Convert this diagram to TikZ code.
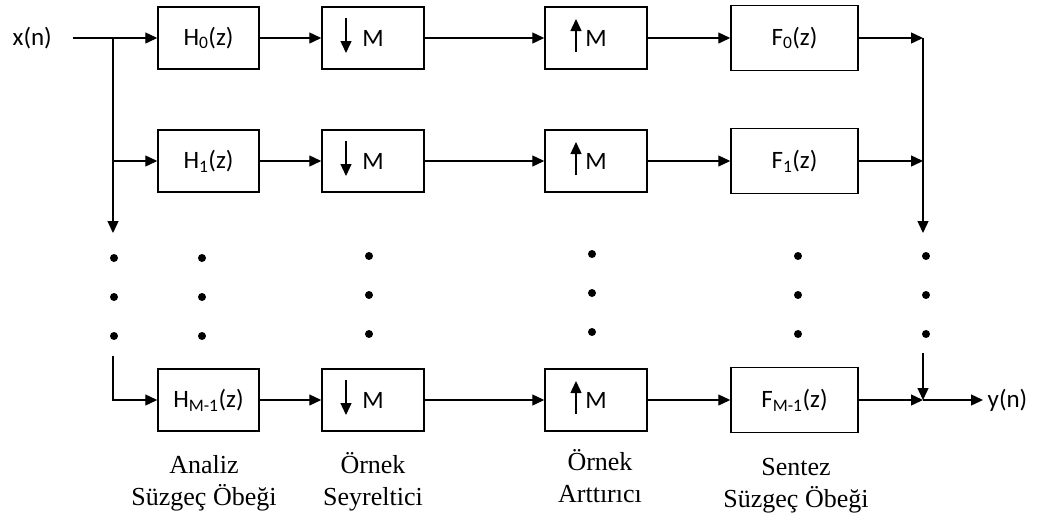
\documentclass[tikz,border=0pt]{standalone}
\usepackage{fontspec}
\setmainfont{Liberation Serif}
\newfontfamily\calfont{Carlito}
\usepackage{tikz}
\usetikzlibrary{arrows.meta}

\begin{document}
\begin{tikzpicture}[x=1pt, y=-1pt, >={Triangle[length=12pt, width=11pt]}, line width=1.4pt,
    blk/.style={draw, line width=1.5pt, minimum height=62pt, inner sep=0pt,
                font=\calfont\fontsize{25}{28}\selectfont},
    sig/.style={font=\calfont\fontsize{25}{28}\selectfont},
    dotc/.style={circle, fill, inner sep=0pt, minimum size=8pt},
    caption/.style={align=center, inner sep=0pt, anchor=base,
                font=\fontsize{26}{32}\selectfont}]

\useasboundingbox (0,0) rectangle (1053,520);

% kollar: analiz, seyreltme, arttirma, sentez
\foreach \r/\y/\s in {0/38/0, 1/161/1, 2/400/{M-1}} {
    \node[blk, minimum width=101pt] (h\r) at (208.5,\y) {H\textsubscript{\s}(z)};
    \node[blk, minimum width=102pt] (dn\r) at (373,\y) {M};
    \node[blk, minimum width=102pt] (up\r) at (596,\y) {M};
    \node[blk, minimum width=127pt, minimum height=65pt] (f\r) at (794.5,\y) {F\textsubscript{\s}(z)};
    % kutu ici oklar
    \draw[->] ([xshift=-27pt, yshift=20pt]dn\r.center) -- ([xshift=-27pt, yshift=-15pt]dn\r.center);
    \draw[->] ([xshift=-20pt, yshift=-14pt]up\r.center) -- ([xshift=-20pt, yshift=19pt]up\r.center);
    % baglantilar
    \draw[->] (h\r) -- (dn\r);
    \draw[->] (dn\r) -- (up\r);
    \draw[->] (up\r) -- (f\r);
}

% giris
\node[sig, anchor=west, inner sep=3pt] (xin) at (9,38) {x(n)};
\coordinate (xs) at (73,38);
\coordinate (jl) at (113,38);
\coordinate (la) at (113,233);
\coordinate (lb) at (113,356);
\draw[->] (xs) -- (h0);
\draw[->] (jl) -- (la);
\draw[->] (jl |- h1) -- (h1);
\draw[->] (lb) |- (h2);

% cikis
\coordinate (jr) at (923,38);
\coordinate (ra) at (923,233);
\coordinate (rb) at (923,353);
\coordinate (jo) at (923,400);
\node[sig, anchor=west, inner sep=4pt] (yout) at (983,400) {y(n)};
\draw[->] (f0) -- (jr);
\draw[->] (jr) -- (ra);
\draw[->] (f1) -- (f1 -| jr);
\draw[->] (f2) -- (jo);
\draw[->] (rb) -- (jo);
\draw[->] (jo) -- (yout);

% noktalar
\foreach \cx/\cy in {114/258, 202/258, 369/256, 592/254, 798/256, 926/256}
    \foreach \k in {0,1,2}
        \node[dotc] (dot-\cx-\k) at (\cx,\cy+39*\k) {};

% etiketler
\node[caption] (capA) at (204,505) {Analiz\\Süzgeç Öbeği};
\node[caption] (capB) at (373,505) {Örnek\\Seyreltici};
\node[caption] (capC) at (600,502) {Örnek\\Arttırıcı};
\node[caption] (capD) at (796,507) {Sentez\\Süzgeç Öbeği};

\end{tikzpicture}
\end{document}
